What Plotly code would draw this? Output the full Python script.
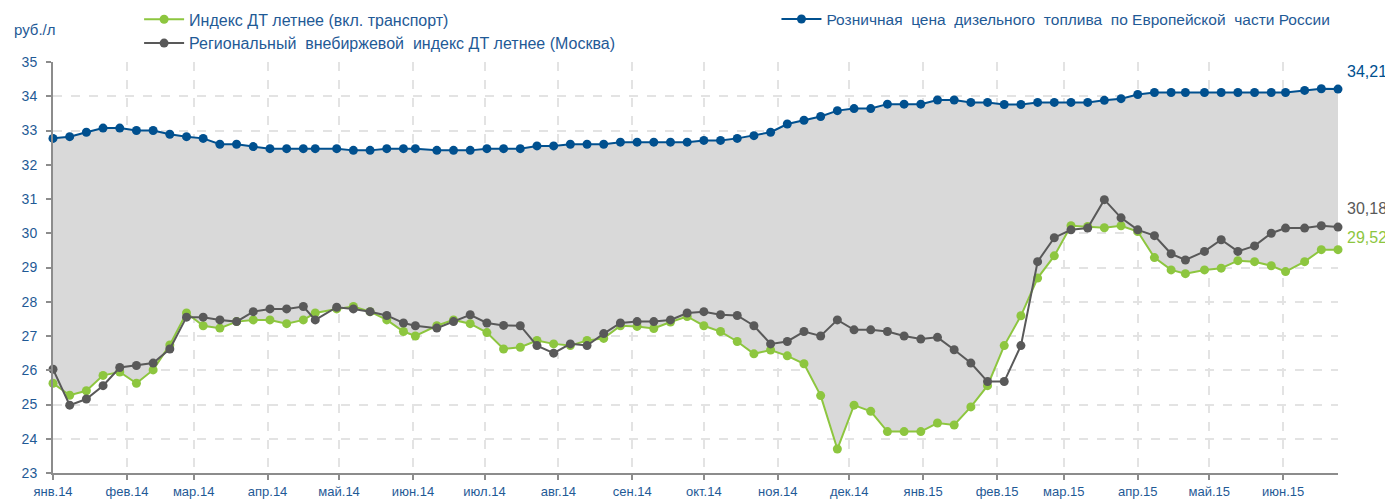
import plotly.graph_objects as go

dates = [
    "2014-01-01", "2014-01-08", "2014-01-15", "2014-01-22", "2014-01-29",
    "2014-02-05", "2014-02-12", "2014-02-19", "2014-02-26",
    "2014-03-05", "2014-03-12", "2014-03-19", "2014-03-26",
    "2014-04-02", "2014-04-09", "2014-04-16", "2014-04-21", "2014-04-30",
    "2014-05-07", "2014-05-14", "2014-05-21", "2014-05-28",
    "2014-06-02", "2014-06-11", "2014-06-18", "2014-06-25",
    "2014-07-02", "2014-07-09", "2014-07-16", "2014-07-23", "2014-07-30",
    "2014-08-06", "2014-08-13", "2014-08-20", "2014-08-27",
    "2014-09-03", "2014-09-10", "2014-09-17", "2014-09-24",
    "2014-10-01", "2014-10-08", "2014-10-15", "2014-10-22", "2014-10-29",
    "2014-11-05", "2014-11-12", "2014-11-19", "2014-11-26",
    "2014-12-03", "2014-12-10", "2014-12-17", "2014-12-24", "2014-12-31",
    "2015-01-07", "2015-01-14", "2015-01-21", "2015-01-28",
    "2015-02-04", "2015-02-11", "2015-02-18", "2015-02-25",
    "2015-03-04", "2015-03-11", "2015-03-18", "2015-03-25",
    "2015-04-01", "2015-04-08", "2015-04-15", "2015-04-21", "2015-04-29",
    "2015-05-06", "2015-05-13", "2015-05-20", "2015-05-27",
    "2015-06-02", "2015-06-10", "2015-06-17", "2015-06-24",
]

retail_eu = [
    32.77, 32.82, 32.95, 33.07, 33.07,
    33.00, 33.00, 32.89, 32.82,
    32.77, 32.60, 32.60, 32.53,
    32.47, 32.47, 32.47, 32.47, 32.47,
    32.42, 32.42, 32.47, 32.47,
    32.47, 32.42, 32.42, 32.42,
    32.47, 32.47, 32.47, 32.55, 32.55,
    32.60, 32.60, 32.60, 32.66,
    32.66, 32.66, 32.66, 32.66,
    32.71, 32.71, 32.77, 32.85, 32.95,
    33.19, 33.30, 33.41, 33.58,
    33.64, 33.64, 33.77, 33.77, 33.77,
    33.89, 33.89, 33.82, 33.82,
    33.76, 33.76, 33.82, 33.82,
    33.82, 33.82, 33.88, 33.93,
    34.05, 34.11, 34.11, 34.11, 34.11,
    34.11, 34.11, 34.11, 34.11,
    34.11, 34.17, 34.22, 34.21,
]

index_summer = [
    25.62, 25.27, 25.40, 25.85, 25.95,
    25.62, 26.01, 26.74, 27.67,
    27.30, 27.23, 27.42, 27.47,
    27.47, 27.36, 27.47, 27.67, 27.79,
    27.86, 27.71, 27.47, 27.13,
    27.00, 27.30, 27.47, 27.36,
    27.10, 26.62, 26.67, 26.87, 26.77,
    26.72, 26.87, 26.93, 27.30,
    27.28, 27.22, 27.41, 27.57,
    27.30, 27.13, 26.84, 26.48, 26.59,
    26.42, 26.19, 25.26, 23.70,
    24.98, 24.80, 24.21, 24.21, 24.21,
    24.46, 24.40, 24.93, 25.55,
    26.72, 27.59, 28.69, 29.34,
    30.22, 30.20, 30.16, 30.22,
    30.05, 29.29, 28.93, 28.82, 28.93,
    28.98, 29.20, 29.17, 29.05,
    28.88, 29.17, 29.52, 29.52,
]

regional_otc = [
    26.03, 24.98, 25.16, 25.55, 26.08,
    26.14, 26.21, 26.62, 27.55,
    27.55, 27.47, 27.42, 27.71,
    27.79, 27.79, 27.86, 27.47, 27.84,
    27.79, 27.71, 27.60, 27.38,
    27.30, 27.23, 27.42, 27.62,
    27.38, 27.31, 27.30, 26.72, 26.50,
    26.77, 26.72, 27.07, 27.38,
    27.42, 27.42, 27.47, 27.67,
    27.71, 27.62, 27.60, 27.30, 26.77,
    26.84, 27.13, 27.00, 27.47,
    27.18, 27.18, 27.13, 27.00, 26.91,
    26.96, 26.60, 26.21, 25.67,
    25.67, 26.72, 29.17, 29.87,
    30.10, 30.15, 30.98, 30.45,
    30.10, 29.93, 29.40, 29.22, 29.47,
    29.81, 29.47, 29.63, 30.00,
    30.15, 30.15, 30.22, 30.18,
]

month_ticks = [
    "2014-01-01", "2014-02-01", "2014-03-01", "2014-04-01", "2014-05-01",
    "2014-06-01", "2014-07-01", "2014-08-01", "2014-09-01", "2014-10-01",
    "2014-11-01", "2014-12-01", "2015-01-01", "2015-02-01", "2015-03-01",
    "2015-04-01", "2015-05-01", "2015-06-01",
]
month_labels = [
    "янв.14", "фев.14", "мар.14", "апр.14", "май.14", "июн.14", "июл.14",
    "авг.14", "сен.14", "окт.14", "ноя.14", "дек.14", "янв.15", "фев.15",
    "мар.15", "апр.15", "май.15", "июн.15",
]

name_green = "Индекс ДТ летнее (вкл. транспорт)"
name_gray = "Региональный\u00a0 внебиржевой\u00a0 индекс ДТ летнее (Москва)"
name_blue = "Розничная\u00a0 цена\u00a0 дизельного\u00a0 топлива\u00a0 по Европейской\u00a0 части России"

BLUE = "#00508F"
GREEN = "#8DC63F"
GRAY = "#595959"
FILL = "#D9D9D9"
TXT = "#1F5A96"
FONT = "Liberation Sans, Arial, sans-serif"

fig = go.Figure()

# band between green index (lower) and retail price (upper)
fig.add_trace(go.Scatter(x=dates, y=index_summer, mode="lines",
                         line=dict(width=0, color="rgba(0,0,0,0)"),
                         showlegend=False, hoverinfo="skip"))
fig.add_trace(go.Scatter(x=dates, y=retail_eu, mode="lines", fill="tonexty",
                         fillcolor=FILL, line=dict(width=0, color="rgba(0,0,0,0)"),
                         showlegend=False, hoverinfo="skip"))

mk = dict(size=9)
fig.add_trace(go.Scatter(x=dates, y=index_summer, mode="lines+markers", name=name_green,
                         line=dict(color=GREEN, width=2), marker=dict(color=GREEN, **mk),
                         cliponaxis=False, legend="legend"))
fig.add_trace(go.Scatter(x=dates, y=regional_otc, mode="lines+markers", name=name_gray,
                         line=dict(color=GRAY, width=2), marker=dict(color=GRAY, **mk),
                         cliponaxis=False, legend="legend"))
fig.add_trace(go.Scatter(x=dates, y=retail_eu, mode="lines+markers", name=name_blue,
                         line=dict(color=BLUE, width=2), marker=dict(color=BLUE, **mk),
                         cliponaxis=False, legend="legend2"))

grid = "#E3E3E3"
fig.update_xaxes(type="date", range=["2014-01-01", "2015-06-24"],
                 tickvals=month_ticks, ticktext=month_labels,
                 showgrid=True, gridcolor=grid, griddash="dash", gridwidth=1.5,
                 showline=True, linecolor="#8C8C8C", linewidth=2,
                 ticks="outside", ticklen=5, tickcolor="#8C8C8C", tickwidth=1.5,
                 tickfont=dict(family=FONT, size=13, color=TXT), zeroline=False)
fig.update_yaxes(range=[23, 35], dtick=1, tick0=23,
                 showgrid=True, gridcolor=grid, griddash="dash", gridwidth=1.5,
                 showline=True, linecolor="#8C8C8C", linewidth=2,
                 ticks="outside", ticklen=5, tickcolor="#8C8C8C", tickwidth=1.5,
                 tickfont=dict(family=FONT, size=14, color=TXT), zeroline=False,
                 ticklabelstandoff=6)

fig.add_annotation(xref="paper", yref="paper", x=-0.032, y=1.078, xanchor="left",
                   yanchor="middle", text="руб./л", showarrow=False,
                   font=dict(family=FONT, size=15, color=TXT))
fig.add_annotation(xref="paper", yref="y", x=1.0225, y=34.71, xanchor="center",
                   yanchor="middle", text="34,21", showarrow=False,
                   font=dict(family=FONT, size=16, color=BLUE))
fig.add_annotation(xref="paper", yref="y", x=1.0225, y=30.71, xanchor="center",
                   yanchor="middle", text="30,18", showarrow=False,
                   font=dict(family=FONT, size=16, color=GRAY))
fig.add_annotation(xref="paper", yref="y", x=1.0225, y=29.89, xanchor="center",
                   yanchor="middle", text="29,52", showarrow=False,
                   font=dict(family=FONT, size=16, color=GREEN))

# page body adds an 8px offset, so the figure is drawn 8px smaller
fig.update_layout(
    width=1385, height=494,
    margin=dict(l=45, r=55, t=54, b=29, autoexpand=False),
    paper_bgcolor="white", plot_bgcolor="white",
    font=dict(family=FONT, color=TXT),
    legend=dict(x=0.067, y=1.145, xanchor="left", yanchor="top", orientation="v",
                traceorder="normal",
                font=dict(family=FONT, size=16, color=TXT), bgcolor="rgba(0,0,0,0)",
                itemwidth=40, tracegroupgap=0),
    legend2=dict(x=0.563, y=1.145, xanchor="left", yanchor="top", orientation="v",
                 traceorder="normal",
                 font=dict(family=FONT, size=15.5, color=TXT), bgcolor="rgba(0,0,0,0)",
                 itemwidth=40),
    showlegend=True,
)

fig.write_html("out.html")
